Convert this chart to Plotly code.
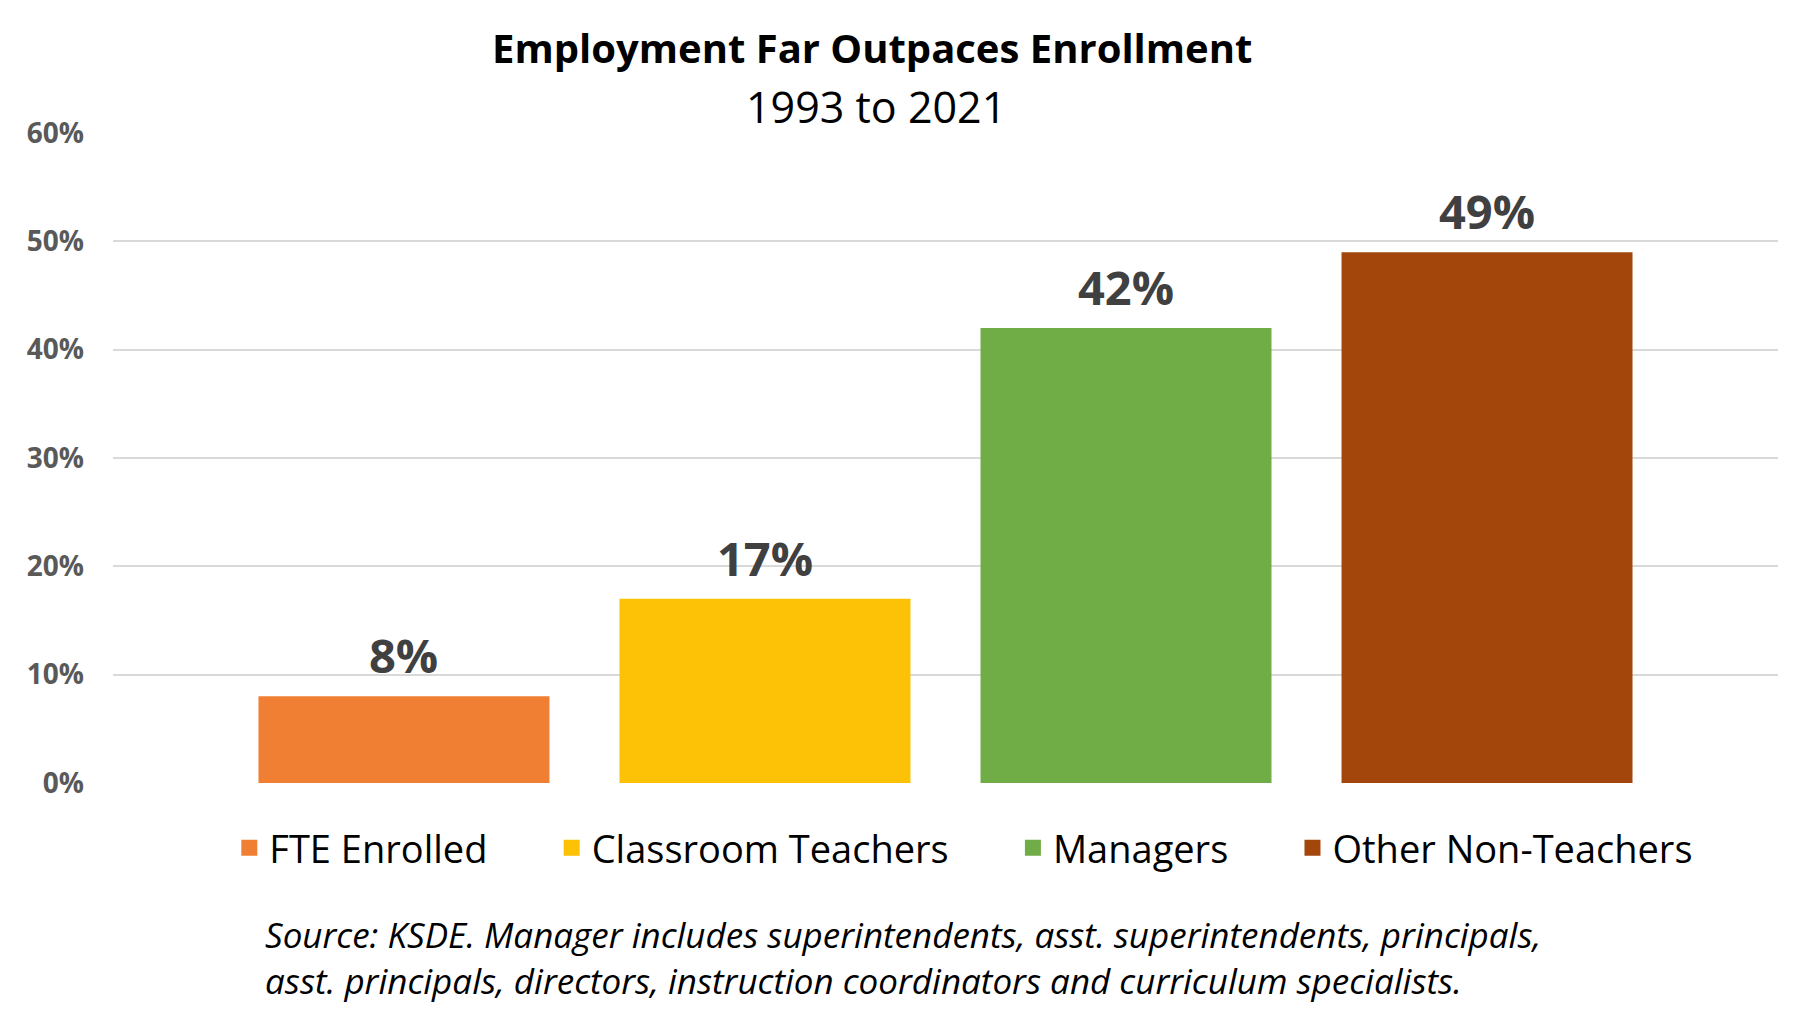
import plotly.graph_objects as go

# data
groups = ["FTE Enrolled", "Classroom Teachers", "Managers", "Other Non-Teachers"]
growth = [0.08, 0.17, 0.42, 0.49]
colors = ["#F07F33", "#FDC106", "#70AD47", "#A2460C"]

y_ticks = [0, 0.1, 0.2, 0.3, 0.4, 0.5, 0.6]

title_text = "Employment Far Outpaces Enrollment"
subtitle_text = "1993 to 2021"
source_note = ("Source: KSDE. Manager includes superintendents, asst. superintendents, principals,<br>"
               "asst. principals, directors, instruction coordinators and curriculum specialists.")

fig = go.Figure()

for i, (name, val, col) in enumerate(zip(groups, growth, colors)):
    fig.add_trace(go.Bar(
        x=[name], y=[val], name=name, legendgroup=name, showlegend=False,
        marker=dict(color=col, line=dict(width=0)),
        width=0.806,
        hoverinfo="skip",
    ))
    # legend entry with a bigger square swatch
    pad = "\u00a0" * 6 if i < len(groups) - 1 else ""
    fig.add_trace(go.Scatter(
        x=[name], y=[None], name=name + pad, legendgroup=name,
        mode="markers", marker=dict(symbol="square", size=16, color=col),
        hoverinfo="skip",
    ))
    # value label above each bar
    fig.add_annotation(
        x=name, y=val, text=f"{val:.0%}",
        showarrow=False, yanchor="bottom", yshift=7,
        font=dict(family="Open Sans", size=47, color="#404040", weight="bold"),
    )

fig.update_layout(
    width=1790, height=1021,
    margin=dict(l=105, r=20, t=125, b=246),
    paper_bgcolor="white", plot_bgcolor="white",
    barmode="overlay",
    showlegend=True,
    legend=dict(
        orientation="h", x=0.511, xanchor="center", y=-0.1, yanchor="middle",
        font=dict(family="Open Sans", size=38, color="black"),
        traceorder="normal", itemsizing="trace",
    ),
    font=dict(family="Open Sans"),
)

fig.update_xaxes(
    showticklabels=False, showgrid=False, zeroline=False, showline=False,
    range=[-0.806, 3.806],
)
fig.update_yaxes(
    range=[0, 0.6], tickvals=y_ticks, tickformat=".0%",
    showgrid=True, gridcolor="#D9D9D9", gridwidth=2,
    zeroline=False, showline=False, ticks="",
    ticklabelstandoff=28,
    tickfont=dict(family="Open Sans", size=28, color="#595959", weight="bold"),
)

# title and subtitle
fig.add_annotation(
    xref="paper", yref="paper", x=0.456, y=1.131, xanchor="center", yanchor="middle",
    text="<b>" + title_text + "</b>", showarrow=False,
    font=dict(family="Open Sans", size=40, color="black"),
)
fig.add_annotation(
    xref="paper", yref="paper", x=0.458, y=1.04, xanchor="center", yanchor="middle",
    text=subtitle_text, showarrow=False,
    font=dict(family="Open Sans", size=43, color="black"),
)

# source note under the legend
fig.add_annotation(
    xref="paper", yref="paper", x=0.09, y=-0.194, xanchor="left", yanchor="top",
    text="<i>" + source_note + "</i>", align="left", showarrow=False,
    font=dict(family="Open Sans", size=35, color="black"),
)

fig.write_html("out.html")
